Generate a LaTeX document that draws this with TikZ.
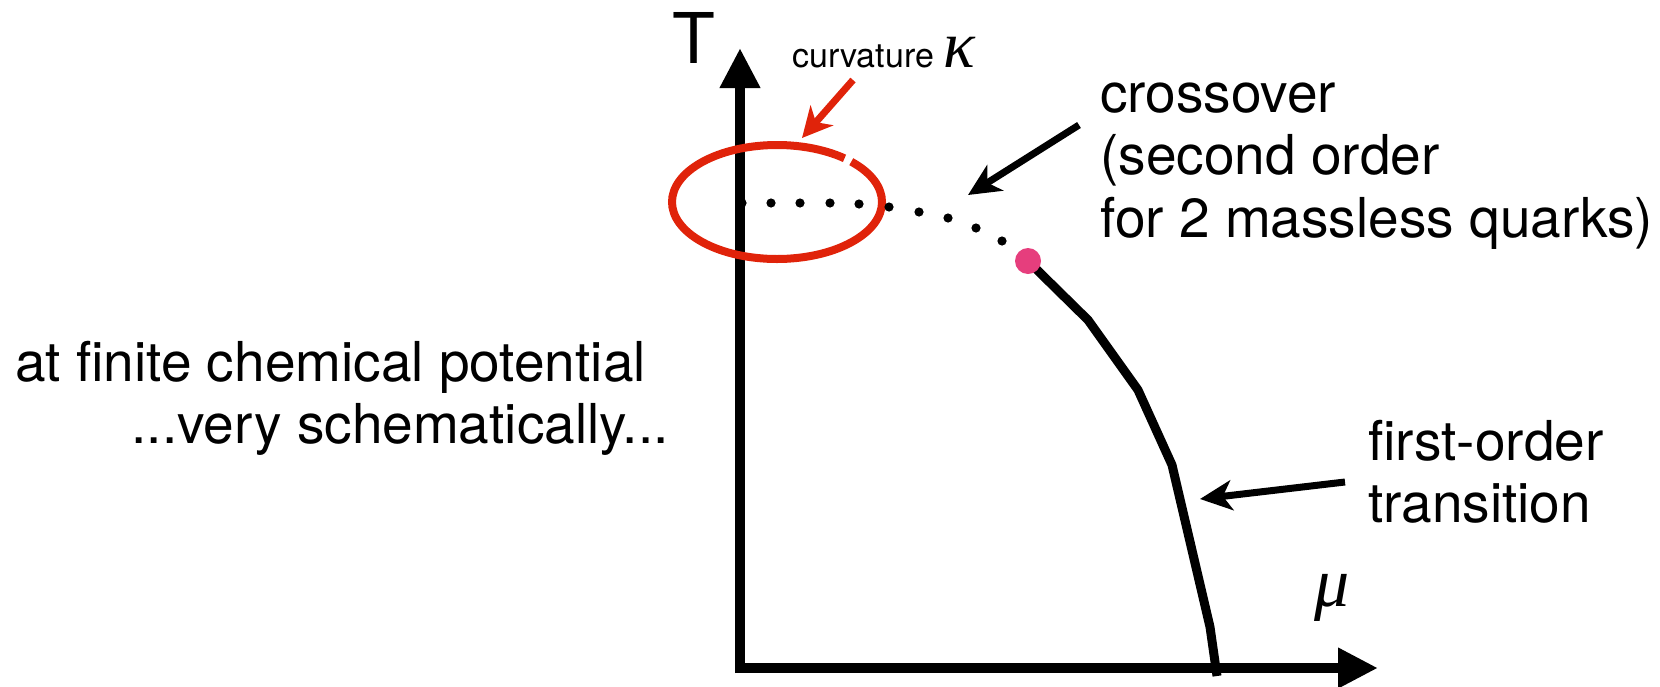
\documentclass[tikz,border=0pt]{standalone}
\usepackage{fontspec}
\setmainfont{TeX Gyre Heros}
\newfontfamily\grkfont{Liberation Serif}
\usetikzlibrary{arrows.meta}
\definecolor{ringred}{RGB}{224,35,10}
\definecolor{cpink}{RGB}{230,62,125}
\begin{document}
\begin{tikzpicture}[x=1pt,y=-1pt,
  axisline/.style={line width=10pt, -{Triangle[length=40pt,width=38pt]}},
  pointer/.style={line width=7pt, -{Stealth[length=32pt,width=30pt,inset=9pt]}},
  lbl/.style={inner sep=0pt, font=\fontsize{55}{62}\selectfont},
  greek/.style={inner sep=0pt, font=\grkfont\itshape\fontsize{70}{70}\selectfont},
  crossdot/.style={fill=black},
  phaseline/.style={line width=9pt, line join=round},
]
\useasboundingbox (0,0) rectangle (1660,686);

% axes
\coordinate (vbot) at (740,673);
\coordinate (Ttip) at (740,48);
\coordinate (hleft) at (735,668);
\coordinate (Mtip) at (1378,668);
\draw[axisline] (vbot) -- (Ttip);
\draw[axisline] (hleft) -- (Mtip);

\node[inner sep=0pt, anchor=base west, font=\fontsize{70}{70}\selectfont] (T) at (672,63) {T};
\node[greek, anchor=base west] (mu) at (1314,606) {μ};

% curvature ring
\draw[ringred, line width=8pt] (777,202) ++(45:105pt and 57pt)
  arc[start angle=45, end angle=-310, x radius=105pt, y radius=57pt];
\node[inner sep=0pt, anchor=base west, font=\fontsize{34}{34}\selectfont] (curv) at (792,67)
  {curvature {\grkfont\itshape\fontsize{66}{66}\selectfont κ}};
\coordinate (rtail) at (853,80);
\coordinate (rtip) at (802,138);
\draw[pointer, ringred, -{Stealth[length=30pt,width=30pt,inset=9pt]}] (rtail) -- (rtip);

% crossover dots
\foreach \x/\y in {742/203, 771/203, 800/203, 830/203, 859/204, 889/207, 919/212, 948/218, 976/228, 1002/241}
  \fill[crossdot] (\x,\y) circle[radius=4.6pt];

% first-order line
\coordinate (c0) at (1028,261);
\coordinate (c1) at (1088,320);
\coordinate (c2) at (1138,390);
\coordinate (c3) at (1172,465);
\coordinate (c4) at (1210,627);
\coordinate (c5) at (1217,676);
\draw[phaseline] (c0) -- (c1) -- (c2) -- (c3) -- (c4) -- (c5);
\node[circle, fill=cpink, inner sep=0pt, minimum size=26pt] (cep) at (c0) {};

% texts
\node[lbl, anchor=base west] (cross1) at (1100,112) {crossover};
\node[lbl, anchor=base west] (cross2) at (1100,174) {(second order};
\node[lbl, anchor=base west] (cross3) at (1100,237) {for 2 massless quarks)};
\coordinate (ctail) at (1079,125);
\coordinate (ctip) at (968,195);
\draw[pointer] (ctail) -- (ctip);

\node[lbl, anchor=base west] (fo1) at (1368,460) {first-order};
\node[lbl, anchor=base west] (fo2) at (1368,522) {transition};
\coordinate (ftail) at (1345,482);
\coordinate (ftip) at (1200,499);
\draw[pointer] (ftail) -- (ftip);

\node[lbl, anchor=base west] (left1) at (15,381) {at finite chemical potential};
\node[lbl, anchor=base east] (left2) at (669,443) {...very schematically...};
\end{tikzpicture}
\end{document}
